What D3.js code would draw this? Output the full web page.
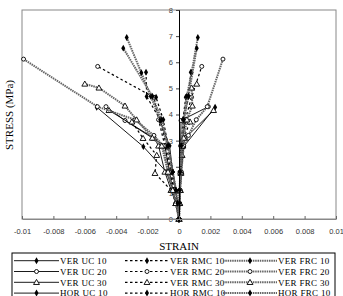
<!DOCTYPE html>
<html>
<head>
<meta charset="utf-8">
<script src="https://cdn.jsdelivr.net/npm/d3@7"></script>
<style>
  body { margin: 0; background: #fff; }
  svg { display: block; }
</style>
</head>
<body>
<div id="chart"></div>
<script>
// tick labels
var xTicks = [-0.01, -0.008, -0.006, -0.004, -0.002, 0, 0.002, 0.004, 0.006, 0.008, 0.01];
var yTicks = [0, 1, 2, 3, 4, 5, 6, 7, 8];

// series names (legend order, by column)
var names = ['VER UC 10', 'VER UC 20', 'VER UC 30', 'HOR UC 10',
             'VER RMC 10', 'VER RMC 20', 'VER RMC 30', 'HOR RMC 10',
             'VER FRC 10', 'VER FRC 20', 'VER FRC 30', 'HOR FRC 10'];

// stress (MPa) for each series
var stress = [
  [0, 0.6, 1.1, 1.8, 2.77, 4.28],
  [0, 0.6, 1.1, 1.8, 2.8, 3.77, 4.3],
  [0, 0.6, 1.1, 1.8, 2.8, 3.1, 4.16],
  [0, 0.6, 1.1, 1.8, 2.8, 3.75],
  [0, 0.6, 1.1, 1.8, 2.8, 3.8, 4.69, 5.62],
  [0, 0.6, 1.1, 1.8, 2.8, 3.8, 4.66, 5.84],
  [0, 0.6, 1.1, 1.75, 2.44, 3.09, 3.72],
  [0, 0.6, 1.1, 1.8, 2.8, 3.8, 4.66],
  [0, 0.6, 1.1, 1.8, 2.8, 3.8, 4.7, 5.6, 6.95],
  [0, 0.6, 1.1, 1.8, 2.8, 3.2, 3.8, 4.3, 6.12],
  [0, 0.6, 1.1, 1.8, 2.8, 3.1, 3.8, 4.33, 5.02, 5.17],
  [0, 0.6, 1.1, 1.8, 2.8, 3.8, 4.7, 6.54]
];

// positive-side strain for each series
var strainR = [
  [0, 0.00003, 0.00008, 0.00015, 0.0003, 0.0023],
  [0, 0.00002, 0.00004, 0.00006, 0.0001, 0.00013, 0.00187],
  [0, 0.00004, 0.00008, 0.00013, 0.00025, 0.0004, 0.0022],
  [0, 0.00002, 0.00005, 0.0001, 0.00015, 0.0004],
  [0, 0.00003, 0.00006, 0.0001, 0.0002, 0.0003, 0.0006, 0.00075],
  [0, 0.00003, 0.00006, 0.0001, 0.0002, 0.0004, 0.0008, 0.00145],
  [0, 0.00004, 0.00008, 0.00012, 0.0002, 0.0003, 0.0007],
  [0, 0.00002, 0.00004, 0.00008, 0.00015, 0.00025, 0.00043],
  [0, 0.00003, 0.00005, 0.00009, 0.00018, 0.0003, 0.0005, 0.0008, 0.0012],
  [0, 0.00004, 0.00008, 0.00015, 0.0003, 0.0006, 0.0011, 0.0018, 0.0028],
  [0, 0.00003, 0.00006, 0.0001, 0.0002, 0.0003, 0.0005, 0.00085, 0.0008, 0.00113],
  [0, 0.00002, 0.00004, 0.00008, 0.00015, 0.0003, 0.0006, 0.00113]
];

// negative-side strain for each series
var strainL = [
  [0, -0.0002, -0.0004, -0.0008, -0.00227, -0.00524],
  [0, -0.0002, -0.0004, -0.0006, -0.0009, -0.00344, -0.00465],
  [0, -0.0002, -0.0005, -0.0009, -0.0013, -0.0016, -0.00446],
  [0, -0.0001, -0.0002, -0.0004, -0.0006, -0.0012],
  [0, -0.0001, -0.0003, -0.0005, -0.0008, -0.0012, -0.00206, -0.0021],
  [0, -0.0001, -0.0003, -0.0006, -0.0009, -0.0013, -0.0016, -0.00518],
  [0, -0.0002, -0.0005, -0.00153, -0.00142, -0.00229, -0.003],
  [0, -0.0001, -0.0002, -0.0004, -0.0007, -0.001, -0.00146],
  [0, -0.0001, -0.0002, -0.0004, -0.0007, -0.0012, -0.0018, -0.0024, -0.00333],
  [0, -0.0002, -0.0004, -0.0007, -0.001, -0.0016, -0.0028, -0.0052, -0.0099],
  [0, -0.0002, -0.0004, -0.0007, -0.0011, -0.0017, -0.0027, -0.00344, -0.0051, -0.006],
  [0, -0.0001, -0.0002, -0.0004, -0.0007, -0.0011, -0.0017, -0.00355]
];

var markers = ['diamond', 'circle', 'triangle', 'diamond',
               'diamond', 'circle', 'triangle', 'diamond',
               'diamond', 'circle', 'triangle', 'diamond'];
var kinds = ['uc', 'uc', 'uc', 'uc', 'rmc', 'rmc', 'rmc', 'rmc', 'frc', 'frc', 'frc', 'frc'];

var serif = "'Liberation Serif', 'DejaVu Serif', serif";
var sans = "'Liberation Sans', Arial, sans-serif";

var W = 343, H = 296;
var svg = d3.select('#chart').append('svg')
  .attr('width', W).attr('height', H);

var x = d3.scaleLinear().domain([-0.01, 0.01]).range([22, 336]);
var y = d3.scaleLinear().domain([0, 8]).range([219, 10]);

// frame
svg.append('rect')
  .attr('x', 22).attr('y', 10).attr('width', 314).attr('height', 209)
  .style('fill', 'none').style('stroke', '#888').style('stroke-width', 1);

function lineStyle(sel, kind) {
  if (kind == 'uc') {
    sel.style('stroke', '#000').style('stroke-width', 0.9);
  } else if (kind == 'rmc') {
    sel.style('stroke', '#000').style('stroke-width', 1.2).style('stroke-dasharray', '2.5,2.5');
  } else {
    sel.style('stroke', '#666').style('stroke-width', 2).style('stroke-dasharray', '1.5,0.8');
  }
}

function drawMarker(g, type, cx, cy) {
  if (type == 'diamond') {
    g.append('path')
      .attr('d', d3.symbol(d3.symbolDiamond, 14)())
      .attr('transform', 'translate(' + cx + ',' + cy + ')')
      .style('fill', '#000');
  } else if (type == 'circle') {
    g.append('circle').attr('cx', cx).attr('cy', cy).attr('r', 2)
      .style('fill', '#fff').style('stroke', '#000').style('stroke-width', 0.9);
  } else {
    g.append('path')
      .attr('d', d3.symbol(d3.symbolTriangle, 15)())
      .attr('transform', 'translate(' + cx + ',' + (cy + 0.5) + ')')
      .style('fill', '#fff').style('stroke', '#000').style('stroke-width', 0.9);
  }
}

var line = d3.line().x(function(d) { return x(d[0]); }).y(function(d) { return y(d[1]); });

var plot = svg.append('g');
names.forEach(function(name, i) {
  [strainR[i], strainL[i]].forEach(function(strains) {
    var pts = strains.map(function(s, j) { return [s, stress[i][j]]; });
    var p = plot.append('path').attr('d', line(pts)).style('fill', 'none');
    lineStyle(p, kinds[i]);
    pts.forEach(function(d) { drawMarker(plot, markers[i], x(d[0]), y(d[1])); });
  });
});

// y axis at zero strain
var yAxis = svg.append('g')
  .attr('transform', 'translate(' + x(0) + ',0)')
  .call(d3.axisLeft(y).tickValues(yTicks).tickSize(3).tickFormat(d3.format('d')));
yAxis.select('.domain').style('stroke', '#000');
yAxis.selectAll('text').style('font-family', sans).style('font-size', '7.5px').style('fill', '#444');
yAxis.selectAll('line').style('stroke', '#444');

// x axis ticks and labels
var xAxis = svg.append('g')
  .attr('transform', 'translate(0,219)')
  .call(d3.axisBottom(x).tickValues(xTicks).tickSizeInner(-3).tickSizeOuter(0)
        .tickPadding(10).tickFormat(function(d) { return d == 0 ? '0' : String(+d.toFixed(3)); }));
xAxis.select('.domain').style('stroke', '#888');
xAxis.selectAll('text').style('font-family', sans).style('font-size', '7.5px').style('fill', '#333');
xAxis.selectAll('line').style('stroke', '#666');

svg.append('text')
  .attr('x', x(0)).attr('y', 250)
  .attr('text-anchor', 'middle')
  .style('font-family', serif).style('font-size', '11px')
  .text('STRAIN');

svg.append('text')
  .attr('transform', 'translate(13,115) rotate(-90)')
  .attr('text-anchor', 'middle')
  .style('font-family', serif).style('font-size', '11px')
  .text('STRESS (MPa)');

// legend
svg.append('rect')
  .attr('x', 12).attr('y', 253).attr('width', 323).attr('height', 60)
  .style('fill', 'none').style('stroke', '#000').style('stroke-width', 1);

var colX = [[14, 59], [125, 169], [223, 277]];
names.forEach(function(name, i) {
  var col = Math.floor(i / 4), row = i % 4;
  var ly = 260.7 + row * 10.8;
  var x0 = colX[col][0], x1 = colX[col][1];
  var l = svg.append('line').attr('x1', x0).attr('x2', x1).attr('y1', ly).attr('y2', ly);
  lineStyle(l, kinds[i]);
  drawMarker(svg, markers[i], (x0 + x1) / 2, ly);
  svg.append('text')
    .attr('x', x1 + 1).attr('y', ly + 3.2)
    .style('font-family', serif).style('font-size', '9px')
    .style('letter-spacing', '0.3px')
    .text(name);
});
</script>
</body>
</html>
